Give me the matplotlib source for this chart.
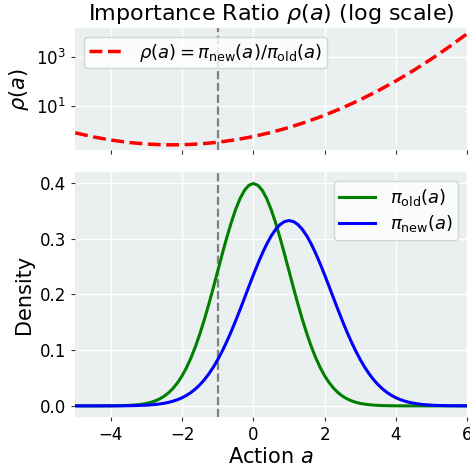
import numpy as np
import matplotlib
matplotlib.use("Agg")
import matplotlib.pyplot as plt

# densities, action grid of 0.125 from -5 to 6
a = np.linspace(-5, 6, 89)
pi_old = [0.0, 0.0, 0.0, 0.00001, 0.00002, 0.00003, 0.00005, 0.00008,
          0.00013, 0.00022, 0.00035, 0.00056, 0.00087, 0.00134, 0.00203, 0.00302,
          0.00443, 0.00640, 0.00909, 0.01272, 0.01753, 0.02377, 0.03174, 0.04172,
          0.05399, 0.06879, 0.08628, 0.10654, 0.12952, 0.15501, 0.18265, 0.21188,
          0.24197, 0.27205, 0.30114, 0.32816, 0.35207, 0.37186, 0.38667, 0.39584,
          0.39894,
          0.39584, 0.38667, 0.37186, 0.35207, 0.32816, 0.30114, 0.27205, 0.24197,
          0.21188, 0.18265, 0.15501, 0.12952, 0.10654, 0.08628, 0.06879, 0.05399,
          0.04172, 0.03174, 0.02377, 0.01753, 0.01272, 0.00909, 0.00640, 0.00443,
          0.00302, 0.00203, 0.00134, 0.00087, 0.00056, 0.00035, 0.00022, 0.00013,
          0.00008, 0.00005, 0.00003, 0.00002, 0.00001, 0.0, 0.0, 0.0,
          0.0, 0.0, 0.0, 0.0, 0.0, 0.0, 0.0, 0.0]
pi_new = [0.0, 0.0, 0.0, 0.00001, 0.00001, 0.00001, 0.00002, 0.00004,
          0.00006, 0.00009, 0.00013, 0.00020, 0.00029, 0.00043, 0.00063, 0.00090,
          0.00129, 0.00181, 0.00252, 0.00347, 0.00473, 0.00637, 0.00849, 0.01120,
          0.01461, 0.01885, 0.02406, 0.03038, 0.03795, 0.04690, 0.05732, 0.06931,
          0.08290, 0.09808, 0.11479, 0.13290, 0.15221, 0.17244, 0.19324, 0.21423,
          0.23493, 0.25484, 0.27347, 0.29029, 0.30481, 0.31661, 0.32531, 0.33065,
          0.33245,
          0.33065, 0.32531, 0.31661, 0.30481, 0.29029, 0.27347, 0.25484, 0.23493,
          0.21423, 0.19324, 0.17244, 0.15221, 0.13290, 0.11479, 0.09808, 0.08290,
          0.06931, 0.05732, 0.04690, 0.03795, 0.03038, 0.02406, 0.01885, 0.01461,
          0.01120, 0.00849, 0.00637, 0.00473, 0.00347, 0.00252, 0.00181, 0.00129,
          0.00090, 0.00063, 0.00043, 0.00029, 0.00020, 0.00013, 0.00009, 0.00006]

# importance ratio on a 0.5 grid (log scale panel)
a_r = np.arange(-5, 6.01, 0.5)
rho = [0.8333, 0.5708, 0.4220, 0.3367, 0.2900, 0.2696, 0.2705, 0.2930,
       0.3426, 0.4323, 0.5889, 0.8658, 1.3739, 2.3533, 4.3514, 8.684,
       18.71, 43.48, 109.15, 295.7, 864.4, 2728.0, 9290.0]

a_mark = -1.0

bg = "#eaefef"
plt.rcParams["font.family"] = "DejaVu Sans"

fig, (ax1, ax2) = plt.subplots(2, 1, figsize=(4.7, 4.68), dpi=100, sharex=True,
                               gridspec_kw={"height_ratios": [1, 2]})
fig.subplots_adjust(left=0.16, right=0.994, top=0.94, bottom=0.109, hspace=0.12)

for ax in (ax1, ax2):
    ax.set_facecolor(bg)
    for s in ax.spines.values():
        s.set_visible(False)
    ax.grid(True, color="white", lw=1.0)
    ax.set_axisbelow(True)
    ax.tick_params(labelsize=12, length=3, width=0.8, color="#333333")
    ax.axvline(a_mark, color="gray", ls="--", lw=1.6)

ax1.plot(a_r, rho, "r--", lw=2.5, label=r"$\rho(a) = \pi_{\rm new}(a)/\pi_{\rm old}(a)$")
ax1.set_yscale("log")
ax1.set_ylabel(r"$\rho(a)$", fontsize=15)
ax1.set_title(r"Importance Ratio $\rho(a)$ (log scale)", fontsize=16)
ax1.legend(loc="upper left", fontsize=13, borderpad=0.25)
ax1.tick_params(axis="x", labelbottom=False)
ax1.tick_params(axis="y", which="minor", length=0)

ax2.plot(a, pi_old, color="green", lw=2.2, label=r"$\pi_{\rm old}(a)$")
ax2.plot(a, pi_new, color="blue", lw=2.2, label=r"$\pi_{\rm new}(a)$")
ax2.set_xlim(-5, 6)
ax2.set_xlabel(r"Action $a$", fontsize=15, labelpad=2)
ax2.set_ylabel("Density", fontsize=15)
ax2.legend(loc="upper right", fontsize=13, borderpad=0.3, labelspacing=0.3)

fig.savefig("out.png")
